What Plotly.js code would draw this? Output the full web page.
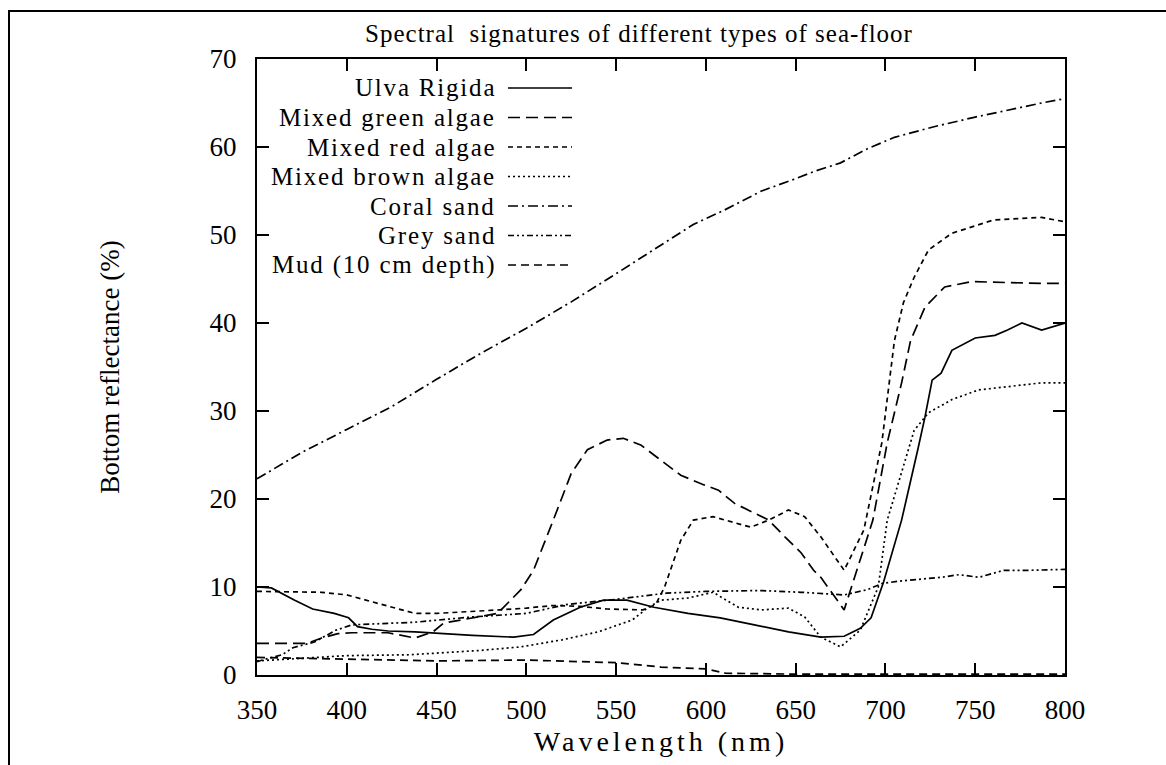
<!DOCTYPE html>
<html>
<head>
<meta charset="utf-8">
<script src="https://cdn.plot.ly/plotly-3.0.1.min.js"></script>
<style>
  html, body { margin: 0; padding: 0; background: #fff; }
  #chart { width: 1166px; height: 765px; }
  text.annotation-text { letter-spacing: 1.8px; }
  text.gtitle { letter-spacing: 1px; }
  text.xtitle { letter-spacing: 4px; }
</style>
</head>
<body>
<div id="chart"></div>
<script>
// ---- data ----
const seriesNames = ["Ulva Rigida", "Mixed green algae", "Mixed red algae", "Mixed brown algae",
                     "Coral sand", "Grey sand", "Mud (10 cm depth)"];

const ulvaX = [350, 358, 371, 381, 393, 401, 406, 414, 423, 438, 470, 493, 504, 515, 530, 543, 556, 571, 590, 608, 627, 646, 664, 677, 686, 692, 699, 709, 718, 722, 726, 731, 737, 750, 761, 768, 776, 787, 800];
const ulvaY = [10.0, 9.9, 8.5, 7.5, 7.0, 6.5, 5.5, 5.2, 5.0, 4.9, 4.5, 4.3, 4.6, 6.25, 7.7, 8.5, 8.5, 7.7, 7.0, 6.5, 5.7, 4.9, 4.3, 4.4, 5.3, 6.5, 10.6, 17.6, 25.6, 29.3, 33.5, 34.3, 36.9, 38.3, 38.6, 39.2, 40.0, 39.2, 40.0];

const greenX = [350, 378, 386, 395, 403, 423, 438, 448, 454, 473, 484, 497, 504, 515, 525, 534, 545, 554, 564, 575, 586, 599, 607, 616, 627, 635, 644, 653, 660, 664, 677, 693, 701, 709, 714, 722, 733, 748, 787, 800];
const greenY = [3.6, 3.6, 4.2, 4.7, 4.8, 4.8, 4.2, 4.9, 5.9, 6.6, 7.0, 9.7, 11.9, 17.6, 22.9, 25.6, 26.7, 26.9, 26.1, 24.4, 22.7, 21.6, 21.0, 19.5, 18.4, 17.6, 15.7, 13.9, 11.9, 11.1, 7.4, 17.6, 26.4, 33.2, 38.0, 41.8, 44.1, 44.7, 44.5, 44.5];

const redX = [350, 386, 400, 414, 427, 438, 450, 470, 485, 500, 515, 530, 545, 565, 572, 577, 586, 593, 604, 616, 625, 635, 646, 655, 664, 677, 688, 698, 702, 705, 710, 716, 724, 737, 760, 787, 800];
const redY = [9.5, 9.4, 9.1, 8.3, 7.6, 7.0, 7.0, 7.2, 7.4, 7.6, 7.9, 7.8, 7.5, 7.4, 8.0, 10.0, 15.3, 17.6, 18.0, 17.3, 16.8, 17.6, 18.75, 18.0, 15.7, 11.9, 16.5, 26.4, 33.2, 38.0, 42.3, 45.2, 48.3, 50.2, 51.7, 52.0, 51.5];

const brownX = [350, 375, 400, 435, 450, 475, 497, 520, 540, 559, 568, 575, 590, 604, 618, 631, 646, 655, 664, 675, 686, 696, 701, 713, 716, 724, 737, 752, 787, 800];
const brownY = [1.6, 1.9, 2.2, 2.3, 2.5, 2.8, 3.2, 4.0, 4.9, 6.25, 7.7, 8.5, 8.75, 9.4, 7.7, 7.4, 7.6, 6.6, 4.3, 3.2, 5.1, 10.0, 17.6, 25.6, 27.8, 29.8, 31.3, 32.4, 33.2, 33.2];

const coralX = [350, 375, 400, 425, 450, 475, 500, 525, 550, 575, 593, 610, 631, 650, 660, 675, 690, 705, 727, 750, 770, 787, 800];
const coralY = [22.3, 25.3, 27.9, 30.5, 33.6, 36.6, 39.4, 42.4, 45.6, 48.9, 51.2, 52.8, 55.0, 56.4, 57.2, 58.2, 59.8, 61.1, 62.3, 63.4, 64.3, 65.0, 65.5];

const greyX = [350, 353, 364, 370, 382, 394, 403, 423, 438, 470, 500, 522, 550, 578, 600, 630, 653, 677, 690, 698, 709, 731, 741, 752, 766, 781, 800];
const greyY = [1.5, 1.7, 2.3, 3.1, 3.75, 5.1, 5.7, 5.9, 6.0, 6.6, 7.0, 8.0, 8.6, 9.3, 9.5, 9.6, 9.4, 9.1, 9.7, 10.4, 10.7, 11.1, 11.4, 11.1, 11.9, 11.9, 12.0];

const mudX = [350, 400, 450, 500, 550, 575, 600, 611, 650, 700, 800];
const mudY = [2.0, 1.8, 1.6, 1.7, 1.4, 0.9, 0.7, 0.2, 0.1, 0.1, 0.1];

const xTicks = [350, 400, 450, 500, 550, 600, 650, 700, 750, 800];
const yTicks = [0, 10, 20, 30, 40, 50, 60, 70];

// ---- styles ----
const dashes = ["solid", "12px,6px", "5px,4px", "2px,3px", "10px,4px,2px,4px", "6px,3px,2px,3px,2px,3px", "8px,5px"];
const serifFamily = "Liberation Serif";

const xs = [ulvaX, greenX, redX, brownX, coralX, greyX, mudX];
const ys = [ulvaY, greenY, redY, brownY, coralY, greyY, mudY];

const traces = seriesNames.map((n, i) => ({
  type: "scatter", mode: "lines", name: n,
  x: xs[i], y: ys[i],
  line: { color: "#000", width: 1.7, dash: dashes[i] },
  showlegend: false
}));

// geometry (pixels) for converting to paper coords
const W = 1166, H = 765, L = 257, R = 1065, T = 59, B = 675;
const toPX = v => (v - L) / (R - L);
const toPY = v => (B - v) / (B - T);

const shapes = [];
const annotations = [];
// legend drawn manually: text right-aligned, line sample to the right
seriesNames.forEach((n, i) => {
  const yy = 88 + i * 29.5;
  annotations.push({
    xref: "paper", yref: "paper", x: toPX(498), y: toPY(yy), xanchor: "right", yanchor: "middle",
    text: n, showarrow: false, font: { family: serifFamily, size: 25, color: "#000" }
  });
  shapes.push({
    type: "line", xref: "paper", yref: "paper",
    x0: toPX(508), x1: toPX(572), y0: toPY(yy), y1: toPY(yy),
    line: { color: "#000", width: 1.7, dash: dashes[i] }
  });
});
// outer frame (left and top edges)
shapes.push({ type: "line", xref: "paper", yref: "paper", x0: toPX(9), x1: toPX(9), y0: toPY(11), y1: toPY(766), line: { color: "#000", width: 2 } });
shapes.push({ type: "line", xref: "paper", yref: "paper", x0: toPX(8), x1: toPX(1166), y0: toPY(11), y1: toPY(11), line: { color: "#000", width: 2 } });

const layout = {
  width: W, height: H,
  margin: { l: L, r: W - R, t: T, b: H - B, pad: 0 },
  paper_bgcolor: "#fff", plot_bgcolor: "#fff",
  title: { text: "Spectral\u00a0 signatures of different types of sea-floor",
           x: 639 / W, xanchor: "center", xref: "container", y: 1 - 33 / H, yanchor: "middle", yref: "container",
           font: { family: serifFamily, size: 25, color: "#000" } },
  xaxis: {
    showline: true, linecolor: "#000", linewidth: 2, mirror: "ticks",
    ticks: "inside", ticklen: 12, tickwidth: 2, tickcolor: "#000",
    showgrid: false, zeroline: false,
    tickfont: { family: serifFamily, size: 27, color: "#000" },
    range: [350, 800], tickvals: xTicks, ticktext: xTicks.map(String),
    ticklabelstandoff: 10,
    title: { text: "Wavelength (nm)", font: { family: serifFamily, size: 28, color: "#000" }, standoff: 7 }
  },
  yaxis: {
    showline: true, linecolor: "#000", linewidth: 2, mirror: "ticks",
    ticks: "inside", ticklen: 12, tickwidth: 2, tickcolor: "#000",
    showgrid: false, zeroline: false,
    tickfont: { family: serifFamily, size: 27, color: "#000" },
    range: [0, 70], tickvals: yTicks, ticktext: yTicks.map(String),
    ticklabelstandoff: 13,
    title: { text: "Bottom reflectance (%)", font: { family: serifFamily, size: 27, color: "#000" }, standoff: 82 }
  },
  shapes: shapes,
  annotations: annotations,
  showlegend: false
};

Plotly.newPlot("chart", traces, layout, { displayModeBar: false, staticPlot: true });
</script>
</body>
</html>
